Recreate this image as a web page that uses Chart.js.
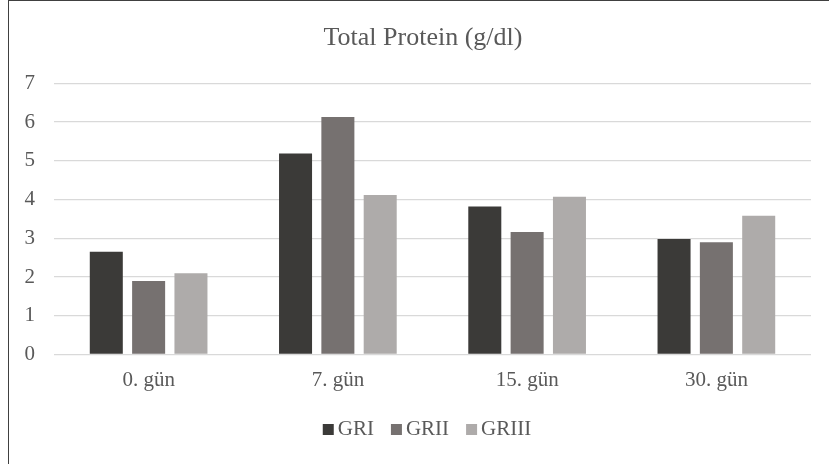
<!DOCTYPE html>
<html>
<head>
<meta charset="utf-8">
<script src="https://cdn.jsdelivr.net/npm/chart.js@4/dist/chart.umd.min.js"></script>
<style>
  html, body { margin: 0; padding: 0; background: #fff; overflow: hidden; }
  #wrap { position: relative; width: 829px; height: 464px; }
  #frame { position: absolute; left: 8px; top: 0; width: 900px; height: 600px;
           border-left: 1px solid #404040; border-top: 1px solid #404040; pointer-events: none; }
  canvas { position: absolute; left: 0; top: 0; }
</style>
</head>
<body>
<div id="wrap">
  <canvas id="chart" width="829" height="464"></canvas>
  <div id="frame"></div>
</div>
<script>
// Sampling days
const categories = ['0. gün', '7. gün', '15. gün', '30. gün'];

// Total protein per group (g/dl)
const groupI   = [2.65, 5.19, 3.82, 2.98];
const groupII  = [1.90, 6.13, 3.16, 2.90];
const groupIII = [2.10, 4.12, 4.07, 3.58];

const seriesNames = ['GRI', 'GRII', 'GRIII'];
const seriesColors = ['#3b3a38', '#767170', '#aeabaa'];

const yTicks = [0, 1, 2, 3, 4, 5, 6, 7];

const titleText = 'Total Protein (g/dl)';

const FONT = "'Liberation Serif', 'Times New Roman', serif";
const TEXT = '#595959';

// Title and legend sit on the frame's centre line, not the canvas centre
const TITLE_CENTER = 423;
const LEGEND_CENTER = 427;

const frameText = {
  id: 'frameText',
  afterDraw(chart) {
    const ctx = chart.ctx;
    ctx.save();
    ctx.textAlign = 'center';
    ctx.textBaseline = 'alphabetic';
    ctx.fillStyle = TEXT;
    ctx.font = '26px ' + FONT;
    ctx.fillText(titleText, TITLE_CENTER, 45);

    // legend: small squares with a tight gap before each name
    const box = 11, gap = 4, spacing = 17;
    ctx.font = '21px ' + FONT;
    ctx.textAlign = 'left';
    const items = chart.data.datasets.map(ds => ({
      label: ds.label, color: ds.backgroundColor, w: ctx.measureText(ds.label).width
    }));
    const total = items.reduce((s, it) => s + box + gap + it.w, 0) + spacing * (items.length - 1);
    let x = LEGEND_CENTER - total / 2;
    items.forEach(it => {
      ctx.fillStyle = it.color;
      ctx.fillRect(x, 424, box, box);
      ctx.fillStyle = TEXT;
      ctx.fillText(it.label, x + box + gap, 435);
      x += box + gap + it.w + spacing;
    });
    ctx.restore();
  }
};

new Chart(document.getElementById('chart'), {
  type: 'bar',
  data: {
    labels: categories,
    datasets: [groupI, groupII, groupIII].map((vals, i) => ({
      label: seriesNames[i],
      data: vals,
      backgroundColor: seriesColors[i],
      borderWidth: 0,
      categoryPercentage: 0.671,
      barPercentage: 0.78
    }))
  },
  options: {
    responsive: false,
    animation: false,
    layout: { padding: { left: 14, right: 18, top: 83.3, bottom: 57.9 } },
    plugins: {
      legend: { display: false },
      tooltip: { enabled: false },
      title: { display: false }
    },
    scales: {
      x: {
        grid: { display: false, drawTicks: false },
        border: { display: false },
        ticks: { color: TEXT, font: { family: FONT, size: 21 }, padding: 13.2 }
      },
      y: {
        min: 0,
        max: 7,
        afterFit(scale) { scale.width = 40; },
        afterBuildTicks(scale) { scale.ticks = yTicks.map(v => ({ value: v })); },
        grid: { color: '#d9d9d9', lineWidth: 1.3, drawTicks: false },
        border: { display: false },
        ticks: { color: TEXT, font: { family: FONT, size: 21 }, padding: 19 }
      }
    }
  },
  plugins: [frameText]
});
</script>
</body>
</html>
